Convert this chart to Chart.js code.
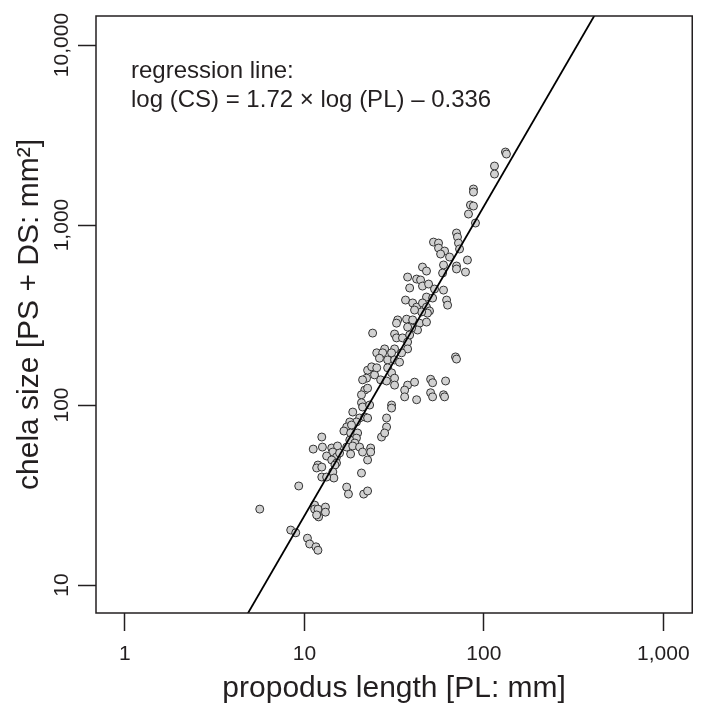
<!DOCTYPE html>
<html>
<head>
<meta charset="utf-8">
<script src="https://cdn.jsdelivr.net/npm/chart.js@4.4.1/dist/chart.umd.min.js"></script>
<style>
  html, body { margin: 0; padding: 0; background: #fff; }
</style>
</head>
<body>
<canvas id="chart" width="701" height="709"></canvas>
<script>
// propodus length (PL, mm) and chela size (CS, mm^2) per specimen, same order
const propodusLength = [
  131.9, 133.6, 114.6, 114.6, 87.5, 87.5, 84.2, 87.5, 82.1, 89.8,
  70.4, 71.3, 72.2, 73.2, 52.4, 55.9, 55.9, 60.4, 57.4, 64.4,
  81.0, 79.0, 70.4, 70.4, 59.6, 58.9, 45.5, 47.9, 37.6, 42.2,
  44.4, 45.5, 49.2, 38.6, 53.1, 59.6, 36.6, 47.9, 51.8, 62.0,
  62.8, 40.1, 42.2, 45.5, 47.9, 49.8, 48.5, 45.0, 41.1, 33.1,
  32.6, 37.1, 40.1, 43.8, 47.9, 42.7, 39.6, 37.6, 31.8, 32.6,
  35.2, 37.6, 38.6, 28.0, 31.8, 37.6,
  24.0, 25.3, 27.3, 30.6, 34.8, 26.2, 29.1, 31.8, 33.9, 22.5,
  23.7, 24.6, 22.2, 25.3, 29.1, 30.6, 31.8, 26.6, 28.7, 31.8,
  21.1, 21.7, 20.8, 22.5, 37.6, 41.1, 42.2, 36.2, 36.2, 30.6,
  30.6, 20.8, 21.1, 23.1, 18.6, 20.3, 21.7, 19.5, 22.5, 28.7,
  28.7, 26.9, 28.0, 17.9, 17.2, 18.3,
  16.6, 18.1, 19.8, 19.5, 17.9, 19.1, 17.2, 18.6, 20.3, 23.4,
  12.5, 11.2, 12.6, 14.2, 15.3,
  14.4, 13.3, 15.1, 15.7, 14.2, 15.1, 14.8, 14.4, 14.6, 11.9,
  11.7, 12.5, 12.5, 13.3, 18.1, 21.1, 23.4, 22.5, 20.8, 17.2,
  17.6, 21.4, 22.5, 9.30, 5.64, 11.4, 11.4, 11.9, 13.1, 13.1,
  12.0, 11.7, 8.39, 8.95, 10.4, 10.7, 11.6, 11.9,
  69.5, 70.4, 50.5, 51.8, 61.2, 50.5, 51.8, 59.6, 60.4
];
const chelaSize = [
  2544, 2480, 2127, 1920, 1585, 1525, 1292, 1275, 1151, 1026,
  903, 858, 794, 736, 804, 794, 745, 717, 690, 664,
  639, 548, 592, 570, 600, 541, 584, 555, 514, 501,
  495, 458, 470, 447, 441, 435, 383, 398, 393, 383,
  359, 369, 350, 369, 350, 333, 324, 329, 337, 297,
  285, 300, 297, 285, 289, 261, 268, 271, 248, 236,
  236, 224, 245, 205, 205, 205,
  251, 195, 195, 195, 195, 182, 178, 178, 173, 156,
  163, 147, 141, 161, 161, 151, 141, 138, 136, 129,
  138, 121, 114, 124, 129, 134, 107, 121, 111, 100,
  96.2, 103, 97.5, 100, 91.4, 84.7, 85.8, 80.5, 84.7, 84.7,
  75.5, 66.4, 69.9, 80.5, 75.5, 77.4,
  71.7, 69.9, 69.9, 65.5, 63.9, 61.5, 58.4, 59.2, 58.4, 57.7,
  66.4, 56.9, 58.4, 57.7, 59.2,
  54.8, 52.1, 51.4, 54.1, 49.5, 47.6, 46.4, 42.5, 39.3, 46.4,
  44.7, 45.2, 39.8, 39.8, 53.4, 54.8, 54.8, 49.5, 41.9, 35.0,
  32.0, 32.0, 33.3, 35.5, 26.4, 27.8, 26.4, 26.4, 27.1, 25.4,
  23.9, 24.5, 20.2, 19.5, 18.2, 16.9, 16.3, 15.6,
  185, 180, 139, 133, 136, 117, 111, 114, 111
];

// regression line end points: log(CS) = 1.72 * log(PL) - 0.336
const lineX = [4, 500];
const lineY = [5.01, 20245];

const tickX = [1, 10, 100, 1000];
const tickY = [10, 100, 1000, 10000];

const FONT = "'Liberation Sans', Arial, Helvetica, sans-serif";
const INK = '#231f20';

const fmt = v => Number(v).toLocaleString('en-US');

const boxPlugin = {
  id: 'box',
  afterDraw(chart) {
    const { ctx, chartArea: a } = chart;
    ctx.save();
    ctx.strokeStyle = INK;
    ctx.lineWidth = 1.5;
    ctx.strokeRect(a.left, a.top, a.right - a.left, a.bottom - a.top);
    ctx.fillStyle = INK;
    ctx.font = '24px ' + FONT;
    ctx.textBaseline = 'alphabetic';
    ctx.fillText('regression line:', 131, 78);
    ctx.fillText('log (CS) = 1.72 \u00d7 log (PL) \u2013 0.336', 131, 107);
    ctx.restore();
  }
};

const gridOpts = {
  drawOnChartArea: false,
  drawTicks: true,
  tickLength: 18,
  tickWidth: 1.5,
  tickColor: INK
};

new Chart(document.getElementById('chart'), {
  type: 'scatter',
  data: {
    datasets: [
      {
        label: 'regression',
        data: lineX.map((x, i) => ({ x: x, y: lineY[i] })),
        showLine: true,
        borderColor: '#000',
        borderWidth: 1.8,
        pointRadius: 0,
        fill: false
      },
      {
        label: 'specimens',
        data: propodusLength.map((x, i) => ({ x: x, y: chelaSize[i] })),
        backgroundColor: '#d1d1d1',
        borderColor: '#333333',
        borderWidth: 1,
        pointRadius: 4
      }
    ]
  },
  options: {
    responsive: false,
    animation: false,
    layout: { padding: { top: 16, right: 8, left: 0, bottom: 0 } },
    plugins: {
      legend: { display: false },
      tooltip: { enabled: false }
    },
    scales: {
      x: {
        type: 'logarithmic',
        min: 0.69,
        max: 1449,
        afterBuildTicks: s => { s.ticks = tickX.map(v => ({ value: v })); },
        afterFit: s => { s.height = 96; },
        grid: gridOpts,
        border: { display: false },
        ticks: {
          color: INK,
          font: { family: FONT, size: 21 },
          padding: 11,
          maxRotation: 0,
          autoSkip: false,
          callback: v => fmt(v)
        },
        title: {
          display: true,
          text: 'propodus length [PL: mm]',
          color: INK,
          font: { family: FONT, size: 30 },
          padding: { top: 0, bottom: 2 }
        }
      },
      y: {
        type: 'logarithmic',
        min: 6.99,
        max: 14500,
        afterBuildTicks: s => { s.ticks = tickY.map(v => ({ value: v })); },
        afterFit: s => { s.width = 96; },
        grid: gridOpts,
        border: { display: false },
        ticks: {
          color: INK,
          font: { family: FONT, size: 21 },
          minRotation: 90,
          maxRotation: 90,
          crossAlign: 'center',
          padding: -16,
          autoSkip: false,
          callback: v => fmt(v)
        },
        title: {
          display: true,
          text: 'chela size [PS + DS: mm\u00b2]',
          color: INK,
          font: { family: FONT, size: 30 },
          padding: { top: 12, bottom: 0 }
        }
      }
    }
  },
  plugins: [boxPlugin]
});
</script>
</body>
</html>
